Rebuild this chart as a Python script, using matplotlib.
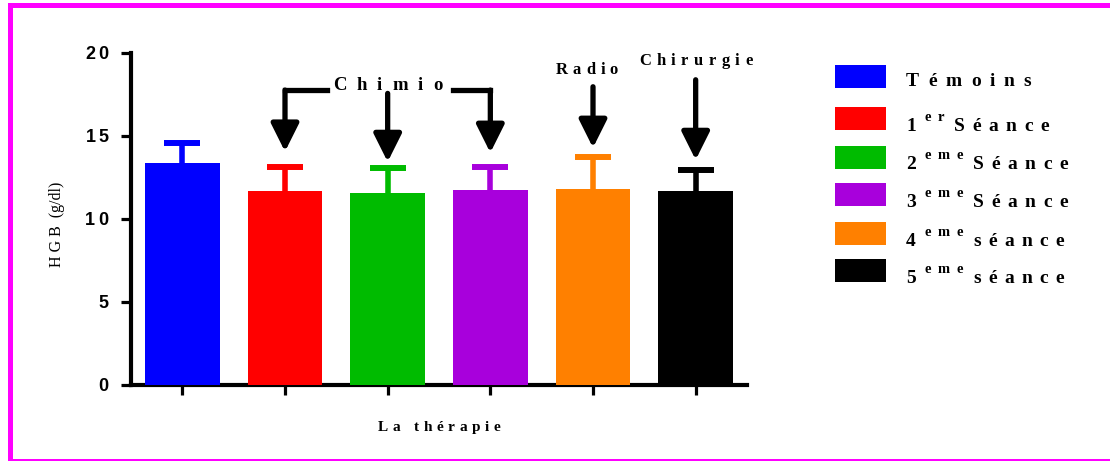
import numpy as np
import matplotlib
matplotlib.use("Agg")
import matplotlib.pyplot as plt
from matplotlib.font_manager import FontProperties
from matplotlib.transforms import IdentityTransform
from matplotlib.patches import Rectangle
from matplotlib.lines import Line2D

# ---- data -------------------------------------------------------------
groups = ["Témoins", "1er Séance", "2eme Séance", "3eme Séance",
          "4eme séance", "5eme séance"]
legend_num = ["", "1", "2", "3", "4", "5"]
legend_sup = ["", "er", "eme", "eme", "eme", "eme"]
legend_word = ["Témoins", "Séance", "Séance", "Séance", "séance", "séance"]
hgb_mean = [13.35, 11.70, 11.57, 11.75, 11.81, 11.69]
hgb_sem = [1.20, 1.43, 1.50, 1.37, 1.90, 1.28]
bar_colors = ["#0000FF", "#FF0000", "#00BB00", "#A800DC", "#FF8000", "#000000"]
y_ticks = [0, 5, 10, 15, 20]

# ---- figure -----------------------------------------------------------
W, H, DPI = 1110, 461, 100
fig = plt.figure(figsize=(W / DPI, H / DPI), dpi=DPI)
fig.patch.set_facecolor("white")
SERIF = "Liberation Serif"
SANS = "Liberation Sans"

ax = fig.add_axes([131 / W, 76 / H, 616 / W, 332.3 / H])
x = np.arange(len(groups))

ax.bar(x, hgb_mean, width=0.73, color=bar_colors, zorder=3)
for xi, m, e, c in zip(x, hgb_mean, hgb_sem, bar_colors):
    _, caps, _ = ax.errorbar(xi, m, yerr=[[0], [e]], fmt="none", ecolor=c,
                             elinewidth=4.0, capsize=13, capthick=4.3,
                             zorder=2)
    # only the upper whisker is shown
    caps[0].set_visible(False)

ax.set_xlim(-0.5, len(groups) - 0.5)
ax.set_ylim(0, 20)
ax.set_xticks(x)
ax.set_yticks(y_ticks)
ax.set_xticklabels([])
ax.set_yticklabels([])
for s in ("top", "right"):
    ax.spines[s].set_visible(False)
for s in ("left", "bottom"):
    ax.spines[s].set_linewidth(3.0)
ax.tick_params(direction="out", length=7.5, width=2.3, color="black")
ax.set_facecolor("none")

renderer = fig.canvas.get_renderer()


def tracked(px, py, s, size, track, space=None, ha="left",
            family=SERIF, weight="bold", color="black"):
    """Write s one glyph at a time (display pixels) with extra letter spacing."""
    fp = FontProperties(family=family, weight=weight, size=size)
    if space is None:
        space = track * 2
    adv = []
    for ch in s:
        if ch == " ":
            adv.append((ch, space))
        else:
            w = renderer.get_text_width_height_descent(ch, fp, ismath=False)[0]
            adv.append((ch, w + track))
    total = sum(a for _, a in adv) - track
    if ha == "center":
        px -= total / 2
    elif ha == "right":
        px -= total
    for ch, a in adv:
        if ch != " ":
            fig.text(px, py, ch, fontproperties=fp, color=color,
                     transform=IdentityTransform(), ha="left", va="baseline")
        px += a
    return px - track


def data_px(xd, yd):
    return ax.transData.transform((xd, yd))


# ---- y tick labels ------------------------------------------------------
for t in y_ticks:
    _, ty = data_px(0, t)
    tracked(108, ty - 6, str(t), 13, 2.5, ha="right", family=SANS)

# ---- axis titles --------------------------------------------------------
fig.text(57, H - 224, "H G B  (g/dl)", rotation=90, ha="center", va="center",
         family=SERIF, size=11.5, transform=IdentityTransform())
cx, _ = ax.transAxes.transform((0.5, 0))
tracked(cx, H - 431, "La thérapie", 11, 4.5, space=9, ha="center")

# ---- treatment annotations ---------------------------------------------
arrow_kw = dict(arrowstyle="-|>,head_length=1.0,head_width=0.5",
                mutation_scale=17, lw=3.8, color="black",
                shrinkA=0, shrinkB=0)


def down_arrow(xd, y_tail, y_tip):
    ax.annotate("", xy=(xd, y_tip), xytext=(xd, y_tail),
                arrowprops=arrow_kw, annotation_clip=False)


bracket_y = 17.75
ax.add_line(Line2D([1.41, 1.0], [bracket_y, bracket_y], lw=3.8,
                   color="black", solid_capstyle="projecting", clip_on=False))
ax.add_line(Line2D([2.64, 3.0], [bracket_y, bracket_y], lw=3.8,
                   color="black", solid_capstyle="projecting", clip_on=False))
down_arrow(1, bracket_y, 14.05)
down_arrow(2, 17.55, 13.43)
down_arrow(3, bracket_y, 13.98)
down_arrow(4, 17.95, 14.28)
down_arrow(5, 18.37, 13.55)

px, py = data_px(2, 17.77)
tracked(px, py, "Chimio", 13.5, 10, ha="center")
px, py = data_px(4, 18.73)
tracked(px - 6, py, "Radio", 12, 5, ha="center")
px, py = data_px(5, 19.28)
tracked(px, py, "Chirurgie", 12, 5.5, ha="center")

# ---- legend -------------------------------------------------------------
sw_tops = [65, 106.7, 145.7, 182.7, 221.7, 259]
baselines = [85.7, 130.7, 169, 206.7, 245.7, 283]
for i in range(len(groups)):
    fig.add_artist(Rectangle((835, H - sw_tops[i] - 23), 51, 23,
                             facecolor=bar_colors[i], edgecolor="none",
                             transform=IdentityTransform()))
    bx = 906
    by = H - baselines[i]
    if legend_num[i]:
        end = tracked(bx, by, legend_num[i], 14, 0)
        end = tracked(end + 9, by + 10, legend_sup[i], 10.5, 6.5)
        tracked(end + 10, by, legend_word[i], 14, 7.5)
    else:
        tracked(bx, by, legend_word[i], 14, 9)

# ---- frame --------------------------------------------------------------
fig.add_artist(Rectangle((9.5, 0.5), W + 20, 455.5, facecolor="none",
                         edgecolor="#FF00FF", lw=3.6,
                         transform=IdentityTransform()))

fig.savefig("out.png", dpi=DPI, facecolor="white")
